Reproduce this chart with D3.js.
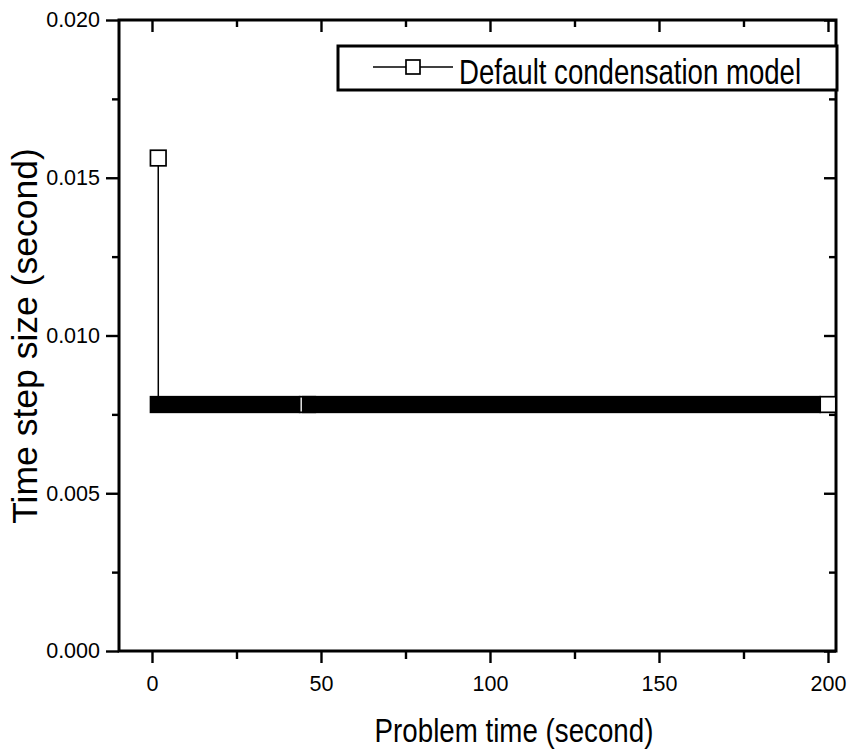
<!DOCTYPE html>
<html><head><meta charset="utf-8">
<script src="https://cdn.jsdelivr.net/npm/d3@7"></script>
<style>body{margin:0;background:#fff}svg{display:block}</style></head>
<body><svg id="c" width="865" height="756"></svg>
<script>
// ---- data ----
const firstTime = [1.85];            // first step: problem time (s)
const firstStep = [0.015625];        // first step: time step size (s)
const runStart = [1.87, 46.9];       // dense runs of constant step: start time (s)
const runEnd   = [46.0, 200.0];      // end time (s)
const runStep  = [0.0078125, 0.0078125]; // step size in each run (s)
const xTicks = [0, 50, 100, 150, 200];
const xMinor = [25, 75, 125, 175];
const yTicks = [0.000, 0.005, 0.010, 0.015, 0.020];
const yMinor = [0.0025, 0.0075, 0.0125, 0.0175];
const seriesName = ["Default condensation model"];

const FONT = '"Liberation Sans", Arial, Helvetica, sans-serif';
const svg = d3.select("#c");
const L = 119, R = 836, T = 20, B = 651;
const x = d3.scaleLinear().domain([-9.76, 202.37]).range([L, R]);
const y = d3.scaleLinear().domain([0, 0.02]).range([B, T]);

function styleAxis(g){
  g.select(".domain").remove();
  g.selectAll(".tick line").attr("stroke","#000").attr("stroke-width",2.4);
  g.selectAll(".tick text").attr("fill","#000").style("font-family",FONT).style("font-size","21.5px");
}
// bottom axis
svg.append("g").attr("transform",`translate(0,${B})`)
  .call(d3.axisBottom(x).tickValues(xTicks).tickSize(12).tickPadding(13).tickFormat(d3.format("d")))
  .call(styleAxis);
svg.append("g").attr("transform",`translate(0,${B})`)
  .call(d3.axisBottom(x).tickValues(xMinor).tickSize(8).tickFormat(""))
  .call(styleAxis);
// top axis (inward)
svg.append("g").attr("transform",`translate(0,${T})`)
  .call(d3.axisTop(x).tickValues(xTicks).tickSize(-12).tickFormat(""))
  .call(styleAxis);
svg.append("g").attr("transform",`translate(0,${T})`)
  .call(d3.axisTop(x).tickValues(xMinor).tickSize(-7).tickFormat(""))
  .call(styleAxis);
// left axis
svg.append("g").attr("transform",`translate(${L},0)`)
  .call(d3.axisLeft(y).tickValues(yTicks).tickSize(13).tickPadding(6).tickFormat(d3.format(".3f")))
  .call(styleAxis);
svg.append("g").attr("transform",`translate(${L},0)`)
  .call(d3.axisLeft(y).tickValues(yMinor).tickSize(7).tickFormat(""))
  .call(styleAxis);
// right axis (inward)
svg.append("g").attr("transform",`translate(${R},0)`)
  .call(d3.axisRight(y).tickValues(yTicks).tickSize(-12).tickFormat(""))
  .call(styleAxis);
svg.append("g").attr("transform",`translate(${R},0)`)
  .call(d3.axisRight(y).tickValues(yMinor).tickSize(-7).tickFormat(""))
  .call(styleAxis);

// frame
svg.append("rect").attr("x",L).attr("y",T).attr("width",R-L).attr("height",B-T)
  .attr("fill","none").attr("stroke","#000").attr("stroke-width",3);

// ---- series ----
const pts = [];
firstTime.forEach((t,i)=>pts.push([t, firstStep[i]]));
runStart.forEach((s,i)=>{ pts.push([s, runStep[i]]); pts.push([runEnd[i], runStep[i]]); });
svg.append("path").datum(pts)
  .attr("d", d3.line().x(d=>x(d[0])).y(d=>y(d[1])))
  .attr("fill","none").attr("stroke","#000").attr("stroke-width",1.5);

const HS = 7.8, SW = 1.7;
function marker(g, cx, cy){
  g.append("rect").attr("x",cx-HS).attr("y",cy-HS).attr("width",2*HS).attr("height",2*HS)
    .attr("fill","#fff").attr("stroke","#000").attr("stroke-width",SW);
}
// single first marker
firstTime.forEach((t,i)=>marker(svg, x(t), y(firstStep[i])));
// dense runs: overlapping markers leave only their left borders visible -> solid band,
// the last marker of each run keeps its white interior until the next run covers it
runStart.forEach((s,i)=>{
  const cy = y(runStep[i]);
  svg.append("rect")
    .attr("x", x(s)-HS-SW/2).attr("y", cy-HS-SW/2)
    .attr("width", (x(runEnd[i])-HS+SW/2) - (x(s)-HS-SW/2))
    .attr("height", 2*HS+SW).attr("fill","#000");
  marker(svg, x(runEnd[i]), cy);
});

// ---- legend ----
const lg = svg.append("g");
lg.append("rect").attr("x",338).attr("y",46).attr("width",499).attr("height",44)
  .attr("fill","#fff").attr("stroke","#000").attr("stroke-width",3);
lg.append("line").attr("x1",373).attr("x2",453).attr("y1",67).attr("y2",67)
  .attr("stroke","#000").attr("stroke-width",1.5);
lg.append("rect").attr("x",413-7).attr("y",67-7).attr("width",14).attr("height",14)
  .attr("fill","#fff").attr("stroke","#000").attr("stroke-width",1.7);
lg.append("text").attr("transform","translate(459,84) scale(0.8,1)")
  .style("font-family",FONT).style("font-size","34.5px").attr("fill","#000")
  .text(seriesName[0]);

// ---- axis titles ----
svg.append("text").attr("transform","translate(514,742) scale(0.84,1)")
  .attr("text-anchor","middle").style("font-family",FONT).style("font-size","33px")
  .text("Problem time (second)");
svg.append("text").attr("transform","translate(37,336) rotate(-90)")
  .attr("text-anchor","middle").style("font-family",FONT).style("font-size","35.5px")
  .text("Time step size (second)");
</script></body></html>
